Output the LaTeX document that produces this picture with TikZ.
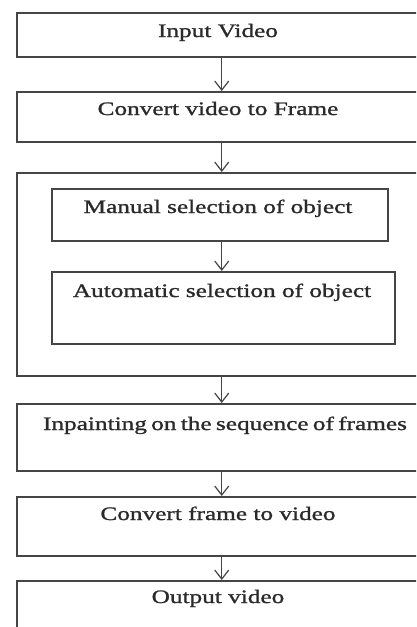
\documentclass[tikz,border=0pt]{standalone}
\usepackage{fontspec}
\setmainfont{Liberation Serif}[FakeStretch=1.33,FakeBold=1.2]
\usetikzlibrary{arrows.meta}
\definecolor{linec}{HTML}{454545}
\definecolor{textc}{HTML}{2A2A2A}
\begin{document}
\begin{tikzpicture}[x=1pt,y=-1pt,
  box/.style={draw=linec,line width=1.5pt,inner sep=0pt,anchor=north west},
  lbl/.style={text=textc,inner sep=0pt,anchor=base,font=\fontsize{19}{22}\selectfont},
  arr/.style={draw=linec,line width=1.2pt,-{Straight Barb[length=9pt,width=14pt,line width=1.2pt]}}]
\useasboundingbox (0,0) rectangle (416,627);
\clip (0,0) rectangle (416,627);
\node[box,minimum width=410pt,minimum height=44pt] (b1) at (16,12) {};
\node[box,minimum width=410pt,minimum height=50pt] (b2) at (16,91) {};
\node[box,minimum width=410pt,minimum height=203pt] (b3) at (16,172) {};
\node[box,minimum width=336pt,minimum height=52pt] (i1) at (51,188) {};
\node[box,minimum width=343pt,minimum height=72pt] (i2) at (51,271) {};
\node[box,minimum width=410pt,minimum height=67pt] (b4) at (16,403) {};
\node[box,minimum width=410pt,minimum height=59pt] (b5) at (16,496) {};
\node[box,minimum width=410pt,minimum height=60pt] (b6) at (16,580) {};
\node[lbl] (t1) at (218,37) {Input Video};
\node[lbl] (t2) at (218,115) {Convert video to Frame};
\node[lbl] (t3) at (218,213) {Manual selection of object};
\node[lbl] (t4) at (222,297) {Automatic selection of object};
\node[lbl] (t5) at (225,430) {\spaceskip=4.3pt Inpainting on the sequence of frames};
\node[lbl] (t6) at (218,520) {Convert frame to video};
\node[lbl] (t7) at (218,603) {Output video};
\draw[arr] (b1.south) -- (b2.north);
\draw[arr] (b2.south) -- (b3.north);
\draw[arr] (i1.south -| b1.south) -- (i2.north -| b1.south);
\draw[arr] (b3.south) -- (b4.north);
\draw[arr] (b4.south) -- (b5.north);
\draw[arr] (b5.south) -- (b6.north);
\end{tikzpicture}
\end{document}
